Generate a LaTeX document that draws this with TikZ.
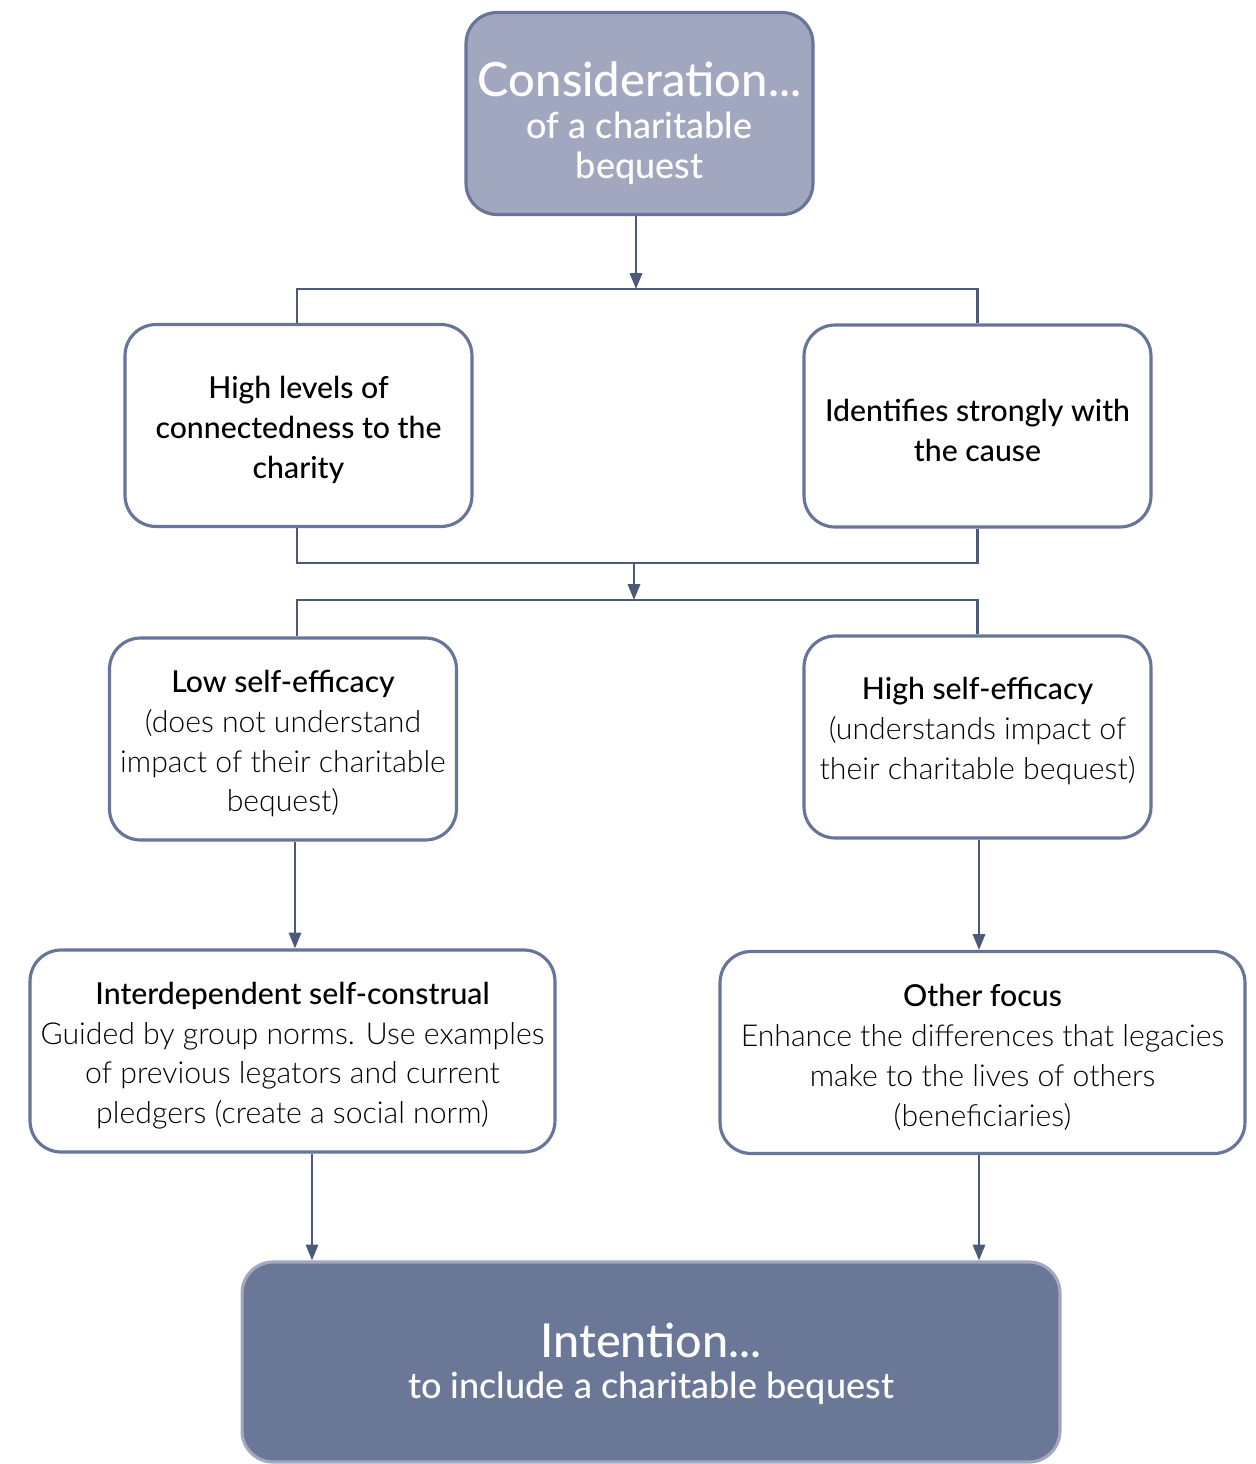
\documentclass[tikz,border=0pt]{standalone}
\usepackage{fontspec}
\setmainfont{Lato}
\newfontfamily\lightfont{Lato Light}
\newfontfamily\medfont{Lato Medium}
\usepackage{tikz}
\usetikzlibrary{arrows.meta,calc,positioning}
\definecolor{edgecol}{RGB}{103,117,154}
\definecolor{linecol}{RGB}{75,90,122}
\definecolor{topfill}{RGB}{162,167,192}
\definecolor{botfill}{RGB}{107,119,151}
\newcommand\lift[1]{\rule{0pt}{#1}}
\newcommand\drop[1]{\rule[-#1]{0pt}{#1}}

\begin{document}
\begin{tikzpicture}[x=0.02cm,y=-0.02cm]
  \tikzset{stepbox/.style={draw=edgecol,line width=1.8pt,rounded corners=0.62cm,fill=white,
      minimum width=6.94cm,minimum height=4.04cm,align=center,inner sep=2pt,
      font=\fontsize{17.2}{22.7}\selectfont\medfont},
    widebox/.style={stepbox,minimum width=10.5cm},
    arr/.style={draw=linecol,line width=1.3pt,-{Triangle[length=9pt,width=7pt]}},
    conn/.style={draw=linecol,line width=1.3pt}}
  \useasboundingbox (0,0) rectangle (1255,1464);
  % ---------------- start and end
  \node[stepbox,fill=topfill,text=white] (cons) at (639.5,113.5)
    {{\fontsize{26.8}{28}\selectfont\lift{31pt}Consideration...}\\[1pt]{\fontsize{20.5}{22.7}\selectfont of a charitable}\\{\fontsize{20.5}{22.7}\selectfont bequest}};
  \node[stepbox,draw=topfill,fill=botfill,text=white,minimum width=16.36cm,minimum height=4cm] (intent) at (651,1362)
    {{\fontsize{26.6}{28}\selectfont\lift{21.5pt}Intention...}\\[1pt]{\fontsize{20.5}{22.7}\selectfont to include a charitable bequest}};
  % ---------------- first row
  \node[stepbox] (connect) at (298.5,425.5) {\lift{18pt}High levels of\\connectedness to the\\charity};
  \node[stepbox] (ident) at (977.5,426) {\lift{18pt}Identifies strongly with\\the cause};
  % ---------------- second row
  \node[stepbox] (lowse) at (283,739)
    {\lift{18pt}Low self-efficacy\\{\lightfont (does not understand}\\{\lightfont impact of their charitable}\\{\lightfont bequest)}};
  \node[stepbox] (highse) at (977.5,737)
    {High self-efficacy\\{\lightfont (understands impact of}\\{\lightfont their charitable bequest)\drop{9.5pt}}};
  % ---------------- third row
  \node[widebox] (interdep) at (292.5,1051)
    {\lift{18pt}Interdependent self-construal\\{\lightfont Guided by group norms. Use examples}\\{\lightfont of previous legators and current}\\{\lightfont pledgers (create a social norm)}};
  \node[widebox] (other) at (982.5,1052.5)
    {\lift{18pt}Other focus\\{\lightfont Enhance the differences that legacies}\\{\lightfont make to the lives of others}\\{\lightfont (beneficiaries)}};
  % ---------------- connectors
  \coordinate (split1) at (636,289);
  \coordinate (merge) at (634,563);
  \coordinate (split2) at (634,600);
  \draw[arr] (cons.south -| split1) -- (split1);
  \draw[conn] (connect.north -| 297,0) |- (split1) -| (ident.north);
  \draw[conn] (connect.south -| 297,0) |- (merge) -| (ident.south);
  \draw[arr] (merge) -- (split2);
  \draw[conn] (lowse.north -| 297,0) |- (split2) -| (highse.north);
  \draw[arr] (lowse.south -| 295,0) -- (interdep.north -| 295,0);
  \draw[arr] (highse.south -| 979,0) -- (other.north -| 979,0);
  \draw[arr] (interdep.south -| 312,0) -- (intent.north -| 312,0);
  \draw[arr] (other.south -| 979,0) -- (intent.north -| 979,0);
\end{tikzpicture}
\end{document}
